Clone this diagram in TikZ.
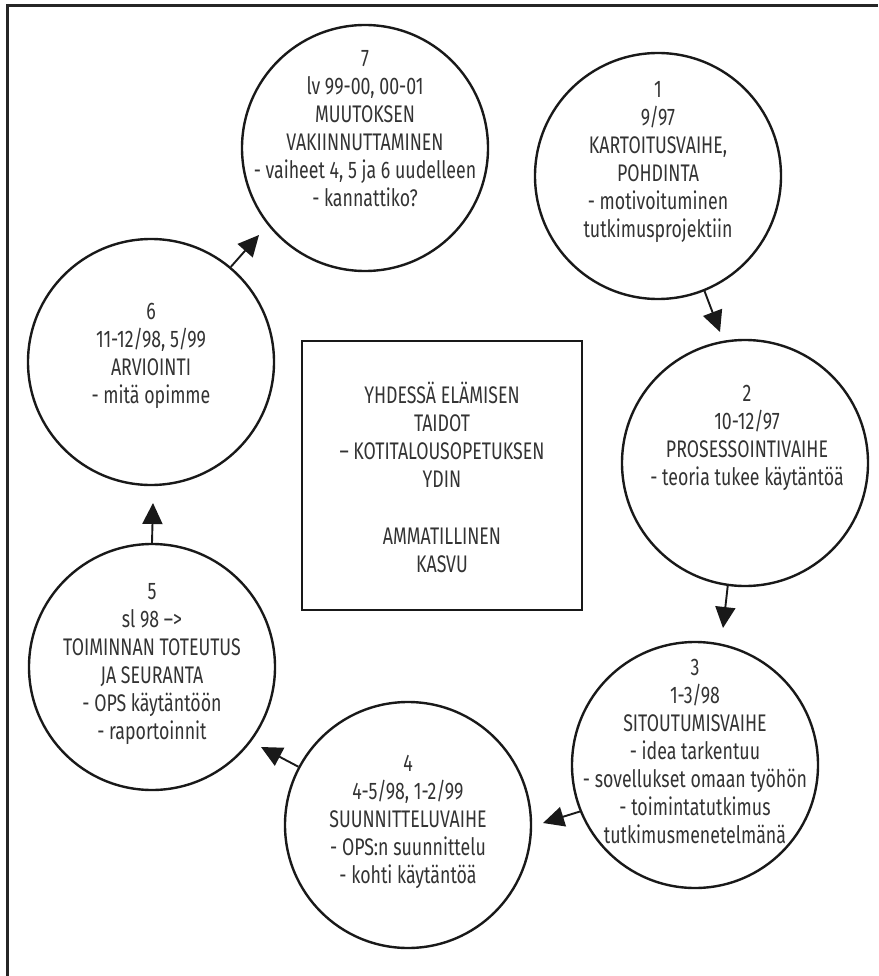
\documentclass[tikz,border=0pt]{standalone}
\usepackage{fontspec}
\setmainfont{Fira Sans}[FakeStretch=0.74]
\usetikzlibrary{arrows.meta}
\tikzset{
  phase/.style={circle, draw=black!90, line width=2.4pt, minimum size=246pt, inner sep=0pt},
  ptext/.style={align=center, font=\fontsize{24}{28}\selectfont, text=black!80, inner sep=0pt},
  core/.style={draw=black!90, line width=2.6pt, inner sep=0pt},
  flow/.style={line width=1.9pt, draw=black!90, -{Triangle[length=21pt,width=20pt]}},
  frameline/.style={line width=3pt, draw=black!85}
}
\begin{document}
\begin{tikzpicture}[x=1pt,y=-1pt]
\useasboundingbox (0,0) rectangle (878,976);
% outer frame (top and left edges)
\draw[frameline] (878,5.5) -- (7.5,5.5) -- (7.5,976);

% phase circles
\node[phase] (c1) at (658,176) {};
\node[phase] (c2) at (745,463) {};
\node[phase] (c3) at (695,765) {};
\node[phase] (c4) at (408,825) {};
\node[phase] (c5) at (152,667) {};
\node[phase] (c6) at (151,362) {};
\node[phase] (c7) at (365,148) {};

% phase texts
\node[ptext] (t1) at (658,162) {1\\9/97\\KARTOITUSVAIHE,\\POHDINTA\\- motivoituminen\\tutkimusprojektiin};
\node[ptext] (t2) at (747,438) {2\\10-12/97\\PROSESSOINTIVAIHE\\- teoria tukee käytäntöä};
\node[ptext] (t3) at (695,751) {3\\1-3/98\\SITOUTUMISVAIHE\\- idea tarkentuu\\- sovellukset omaan työhön\\- toimintatutkimus\\tutkimusmenetelmänä};
\node[ptext] (t4) at (408,822) {4\\4-5/98, 1-2/99\\SUUNNITTELUVAIHE\\- OPS:n suunnittelu\\- kohti käytäntöä};
\node[ptext] (t5) at (152,664) {5\\sl 98 –>\\TOIMINNAN TOTEUTUS\\JA SEURANTA\\- OPS käytäntöön\\- raportoinnit};
\node[ptext] (t6) at (151,356) {6\\11-12/98, 5/99\\ARVIOINTI\\- mitä opimme};
\node[ptext] (t7) at (365,129) {7\\lv 99-00, 00-01\\MUUTOKSEN\\VAKIINNUTTAMINEN\\- vaiheet 4, 5 ja 6 uudelleen\\- kannattiko?};

% central box
\node[core, minimum width=280pt, minimum height=269pt] (box) at (442,475.5) {};
\node[ptext] (tb) at (442,477) {YHDESSÄ ELÄMISEN\\TAIDOT\\– KOTITALOUSOPETUKSEN\\YDIN\\[29pt]AMMATILLINEN\\KASVU};

% arrow tips in front of the next circle
\coordinate (a2) at (720,332);
\coordinate (a3) at (723,628);
\coordinate (a4) at (543,823);
\coordinate (a5) at (261,747);
\coordinate (a6) at (153,503);
\coordinate (a7) at (259,235);

\draw[flow] (c1.-68) -- (a2);
\draw[flow] (c2.-98) -- (a3);
\draw[flow] (c3.202) -- (a4);
\draw[flow] (c4.152) -- (a5);
\draw[flow] (c5.90) -- (a6);
\draw[flow] (c6.50) -- (a7);
\end{tikzpicture}
\end{document}
